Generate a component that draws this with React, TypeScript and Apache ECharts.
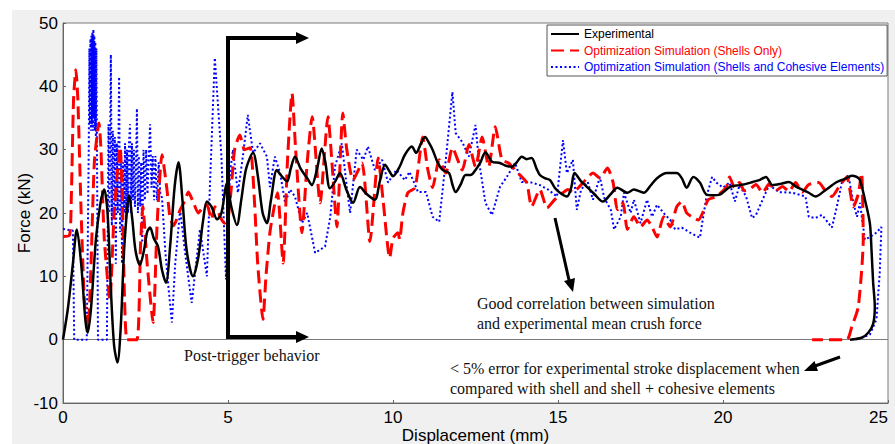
import React, { useEffect, useRef } from "react";
import * as echarts from "echarts";

const seriesNames = [
  "Experimental",
  "Optimization Simulation (Shells Only)",
  "Optimization Simulation (Shells and Cohesive Elements)",
];

const xTicks = { min: 0, max: 25, interval: 5 };
const yTicks = { min: -10, max: 50, interval: 10 };

const experimental: number[][] = [
  [0, 0], [0.15, 5], [0.3, 12], [0.42, 17.4], [0.55, 12], [0.68, 3], [0.75, 1.1], [0.85, 5], [1.0, 16], [1.15, 22], [1.25, 23.7], [1.35, 20], [1.45, 8], [1.55, -1], [1.65, -3.6], [1.75, 2], [1.85, 14], [1.95, 21], [2.0, 22.8], [2.1, 19], [2.2, 14], [2.33, 11.8], [2.45, 14], [2.55, 17], [2.64, 17.7], [2.75, 16], [2.88, 14.7], [3.0, 11], [3.12, 9.0], [3.25, 15], [3.38, 24], [3.5, 28], [3.62, 22], [3.75, 14], [3.94, 10], [4.1, 13], [4.25, 19], [4.36, 21.8], [4.5, 21], [4.67, 19], [4.8, 20], [4.97, 24.7], [5.1, 21], [5.27, 18.1], [5.4, 22], [5.55, 27], [5.76, 29.5], [5.9, 26], [6.05, 20], [6.18, 18.4], [6.3, 22], [6.48, 26.8], [6.6, 26], [6.79, 25], [6.9, 27], [7.03, 28.9], [7.2, 27], [7.4, 25.5], [7.54, 24.4], [7.7, 27], [7.84, 30.2], [7.95, 28], [8.09, 23.9], [8.25, 25], [8.39, 26.3], [8.6, 23.5], [8.79, 21.6], [9.0, 24.1], [9.2, 23], [9.45, 22.1], [9.6, 25], [9.76, 27.6], [9.9, 26.5], [10.0, 25.8], [10.2, 27.3], [10.36, 29.2], [10.57, 30.5], [10.7, 29.5], [10.85, 31], [10.97, 32], [11.1, 31], [11.2, 30], [11.35, 28], [11.5, 26.8], [11.7, 26.3], [11.8, 24.5], [11.9, 23.3], [12.05, 24.5], [12.2, 26], [12.35, 26], [12.5, 26.8], [12.65, 28], [12.8, 29.6], [13.0, 28.1], [13.24, 27.9], [13.4, 27.5], [13.6, 27.3], [13.75, 28], [13.9, 28.9], [14.05, 28.5], [14.2, 28.7], [14.35, 27], [14.45, 26], [14.6, 25.5], [14.76, 25.2], [14.9, 24], [15.06, 23.2], [15.27, 22.6], [15.4, 24], [15.5, 26.3], [15.7, 25], [15.9, 24], [16.1, 23], [16.36, 21.8], [16.6, 23], [16.8, 24], [17.1, 23.2], [17.3, 23.7], [17.6, 23.2], [17.8, 24.3], [18.0, 25.5], [18.3, 26.3], [18.6, 26.3], [18.75, 25.5], [18.9, 24], [19.1, 25.7], [19.3, 24.8], [19.5, 22.9], [19.7, 22.8], [19.9, 22.9], [20.2, 24.1], [20.5, 24.4], [20.7, 24.6], [20.9, 24.9], [21.1, 25.2], [21.3, 25.7], [21.5, 24.4], [21.75, 24.6], [22.0, 24.9], [22.2, 24.2], [22.4, 23.7], [22.6, 23.2], [22.8, 22.6], [23.1, 23.6], [23.45, 24.9], [23.7, 25.4], [23.9, 25.9], [24.05, 25.7], [24.15, 25.2], [24.3, 22.1], [24.45, 18.4], [24.5, 14.2], [24.55, 9], [24.6, 5.2], [24.55, 2.5], [24.4, 1.1], [24.2, 0.3], [23.85, 0],
];

const shellsOnly: number[][] = [
  [0, 16.3], [0.2, 16.5], [0.25, 22], [0.32, 38], [0.39, 42.6], [0.45, 38], [0.55, 20], [0.65, 6], [0.76, 1.9], [0.85, 12], [0.95, 28], [1.09, 34.2], [1.15, 30], [1.25, 16], [1.42, 6.3], [1.55, 20], [1.73, 30.4], [1.8, 22], [1.94, 0], [2.24, 0], [2.35, 15], [2.42, 21], [2.55, 12], [2.73, 2.7], [2.85, 18], [3.0, 29.2], [3.15, 23.7], [3.24, 19.4], [3.35, 18], [3.55, 20.5], [3.7, 22], [3.8, 23.3], [3.94, 21.8], [4.1, 20], [4.25, 21], [4.36, 21.3], [4.5, 19], [4.6, 21], [4.7, 20.2], [4.8, 19], [4.9, 18.4], [5.0, 19], [5.1, 24], [5.2, 30], [5.36, 32.3], [5.5, 30], [5.67, 30.3], [5.8, 22], [5.9, 12], [6.06, 3.2], [6.15, 10], [6.27, 16.9], [6.4, 21], [6.5, 23.2], [6.67, 12.1], [6.8, 28], [6.94, 38.9], [7.05, 30], [7.24, 16.9], [7.4, 28], [7.55, 35.2], [7.79, 21.6], [8.03, 35.2], [8.15, 28], [8.3, 17.8], [8.48, 35.8], [8.6, 30], [8.79, 25.2], [9.06, 27.9], [9.3, 15.5], [9.55, 28.7], [9.7, 22], [9.9, 12.9], [10.0, 16], [10.15, 16.9], [10.2, 15.8], [10.3, 20], [10.45, 23.2], [10.67, 24], [10.9, 32], [11.05, 27], [11.2, 24], [11.4, 28.4], [11.6, 26.3], [11.8, 30.3], [12.1, 26.8], [12.3, 30.8], [12.5, 27.3], [12.7, 32], [12.9, 27.3], [13.1, 33.6], [13.3, 28.4], [13.5, 27.9], [13.75, 26.5], [14.05, 24.8], [14.2, 21], [14.45, 23.7], [14.67, 20.8], [14.9, 22.1], [15.15, 23.2], [15.3, 23.7], [15.45, 23.3], [15.76, 24.8], [16.06, 26.3], [16.27, 25.5], [16.5, 27.1], [16.67, 24.8], [16.8, 20.5], [16.97, 21.6], [17.1, 17.4], [17.3, 19.4], [17.5, 17.8], [17.7, 18.9], [17.85, 17.8], [18.0, 16.2], [18.2, 19.4], [18.4, 17.8], [18.6, 21], [18.75, 21.8], [18.9, 20], [19.05, 19.4], [19.25, 18.9], [19.4, 20.2], [19.55, 22.1], [19.8, 22.6], [20.1, 24.1], [20.2, 25.7], [20.35, 24], [20.5, 24.8], [20.65, 23.5], [20.8, 23.7], [21.0, 24.5], [21.2, 23.2], [21.4, 24.6], [21.6, 23.5], [21.8, 24.2], [22.0, 23.4], [22.2, 24.8], [22.4, 23.3], [22.6, 24.5], [22.9, 24.8], [23.1, 23.5], [23.3, 22.6], [23.5, 24], [23.75, 25.7], [23.95, 21], [24.1, 23], [24.2, 26.3], [24.25, 15.8], [24.1, 5.2], [23.9, 2], [23.75, 0], [22.7, 0],
];

const shellsCohesive: number[][] = [
  [0, 17.5], [0.3, 17.2], [0.34, 0], [0.72, 0], [0.78, 30], [0.8, 46], [0.815, 34], [0.83, 47.5], [0.845, 33], [0.86, 48], [0.875, 34], [0.89, 48.5], [0.905, 33], [0.92, 49], [0.935, 35], [0.95, 48], [0.965, 33], [0.98, 47], [0.995, 32], [1.01, 46], [1.03, 30], [1.06, 0], [1.33, 0], [1.38, 34], [1.41, 20], [1.45, 45], [1.48, 18], [1.51, 33], [1.54, 19], [1.57, 32], [1.6, 12], [1.63, 31], [1.66, 20], [1.7, 41.5], [1.73, 17], [1.76, 30], [1.79, 12], [1.82, 28], [1.85, 20], [1.88, 31], [1.91, 19], [1.94, 30], [1.97, 20], [2.0, 31], [2.03, 34], [2.06, 20], [2.09, 31], [2.12, 22], [2.15, 30], [2.18, 21], [2.21, 27], [2.24, 36.5], [2.27, 20], [2.3, 29], [2.34, 21], [2.37, 28], [2.4, 15.3], [2.44, 30], [2.48, 22], [2.52, 30], [2.56, 23], [2.6, 29], [2.64, 34], [2.68, 24], [2.72, 29], [2.76, 22], [2.8, 29], [2.85, 22], [2.9, 28], [2.95, 23], [3.0, 22.4], [3.1, 14], [3.2, 8], [3.3, 2.7], [3.4, 12], [3.55, 20.5], [3.7, 13.7], [3.9, 5.8], [4.15, 17.4], [4.36, 10], [4.45, 24], [4.6, 44.5], [4.8, 29], [4.94, 9.5], [5.06, 26.3], [5.15, 30], [5.3, 23.2], [5.45, 28.9], [5.6, 35.5], [5.76, 29.5], [5.97, 31], [6.18, 28.9], [6.27, 24.1], [6.42, 28.9], [6.58, 26.3], [6.73, 21.6], [6.88, 23.7], [7.03, 22.6], [7.24, 18.4], [7.4, 20], [7.64, 13.7], [7.94, 14.7], [8.1, 19.4], [8.24, 27.3], [8.45, 31], [8.6, 24.1], [8.7, 20], [8.9, 30], [9.1, 28.4], [9.24, 30.5], [9.45, 26.8], [9.67, 28.4], [9.85, 24.8], [10.1, 26.8], [10.36, 25.2], [10.5, 26.5], [10.76, 23.3], [11.0, 23.3], [11.2, 19.4], [11.4, 18.6], [11.6, 28.4], [11.8, 39.1], [11.9, 32.6], [12.1, 31.2], [12.3, 28.9], [12.5, 33.9], [12.6, 28.4], [12.8, 21.6], [13.0, 19.7], [13.24, 24.1], [13.45, 25.7], [13.7, 27.9], [13.9, 24.9], [14.2, 24.8], [14.45, 24.4], [14.7, 23.7], [14.97, 22.6], [15.15, 31.5], [15.27, 26.3], [15.45, 28.4], [15.57, 20.5], [15.7, 23.7], [15.9, 24.9], [16.06, 22.1], [16.27, 25.7], [16.4, 22.4], [16.6, 20.5], [16.7, 17.4], [16.9, 19.4], [17.0, 23.2], [17.2, 20], [17.3, 22.1], [17.5, 18.4], [17.7, 22.1], [17.85, 19.4], [18.0, 21.3], [18.2, 20], [18.4, 18.9], [18.55, 17.4], [18.75, 17.7], [19.0, 16.9], [19.3, 16.1], [19.4, 19.4], [19.5, 22.6], [19.67, 25.7], [19.8, 24.8], [20.0, 24], [20.2, 24.8], [20.36, 21.8], [20.5, 24.4], [20.7, 22.6], [20.88, 19.2], [21.0, 19.7], [21.2, 22.1], [21.4, 24.4], [21.7, 23.3], [22.1, 23.2], [22.5, 22.6], [22.6, 19.4], [22.8, 19.2], [23.0, 19.7], [23.3, 17.7], [23.45, 21], [23.6, 24.8], [23.8, 26], [23.95, 21.6], [24.06, 19.4], [24.15, 21.6], [24.3, 15.8], [24.45, 16.2], [24.65, 16.9], [24.8, 17.8], [24.75, 10.6], [24.65, 3.2], [24.45, 0.8], [24.15, 0.2], [23.85, 0],
];

const annotations = {
  trigger: "Post-trigger behavior",
  correlation: ["Good correlation between simulation", "and experimental mean crush force"],
  stroke: ["< 5% error for experimental stroke displacement when", "compared with shell and shell + cohesive elements"],
};

const SANS = "'Liberation Sans', Arial, sans-serif";
const SERIF = "'Liberation Serif', 'Times New Roman', serif";

export default function App() {
  const ref = useRef<HTMLDivElement>(null);
  useEffect(() => {
    if (!ref.current) return;
    const chart = echarts.init(ref.current, undefined, { renderer: "svg" });
    const serifFont = `16px ${SERIF}`;
    const option: any = {
      animation: false,
      grid: {
        left: 63,
        top: 23,
        right: 7,
        bottom: 41,
        outerBoundsMode: "none",
        containLabel: false,
        show: true,
        backgroundColor: "#ffffff",
        borderColor: "#7a7a7a",
        borderWidth: 1,
      },
      legend: {
        orient: "vertical",
        left: 547,
        top: 25,
        padding: [3, 3, 3, 3],
        itemGap: 4.5,
        itemWidth: 28,
        itemHeight: 14,
        backgroundColor: "#ffffff",
        borderColor: "#555555",
        borderWidth: 1,
        borderRadius: 0,
        itemStyle: { opacity: 0 },
        textStyle: { fontFamily: SANS, fontSize: 12 },
        data: [
          { name: seriesNames[0], textStyle: { color: "#000000" } },
          { name: seriesNames[1], textStyle: { color: "#ff0000" } },
          { name: seriesNames[2], textStyle: { color: "#0000ff" } },
        ],
      },
      xAxis: {
        type: "value",
        min: xTicks.min,
        max: xTicks.max,
        interval: xTicks.interval,
        name: "Displacement (mm)",
        nameLocation: "middle",
        nameGap: 24,
        nameMoveOverlap: false,
        nameTextStyle: { fontFamily: SANS, fontSize: 17, color: "#000" },
        axisLine: { onZero: false, lineStyle: { color: "#666", width: 1 } },
        axisTick: { show: true, inside: true, length: 3, lineStyle: { color: "#666" } },
        axisLabel: { fontFamily: SANS, fontSize: 17, color: "#000", margin: 6, alignMaxLabel: "right" },
        splitLine: { show: false },
      },
      yAxis: {
        type: "value",
        min: yTicks.min,
        max: yTicks.max,
        interval: yTicks.interval,
        name: "Force (kN)",
        nameLocation: "middle",
        nameGap: 30,
        nameMoveOverlap: false,
        nameTextStyle: { fontFamily: SANS, fontSize: 17, color: "#000" },
        axisLine: { show: true, lineStyle: { color: "#666", width: 1 } },
        axisTick: { show: true, inside: true, length: 3, lineStyle: { color: "#666" } },
        axisLabel: { fontFamily: SANS, fontSize: 17, color: "#000", margin: 5 },
        splitLine: { show: false },
      },
      series: [
        {
          name: seriesNames[0],
          type: "line",
          data: experimental,
          symbol: "none",
          smooth: 0.3,
          z: 5,
          lineStyle: { color: "#000000", width: 2.5 },
          itemStyle: { color: "#000000" },
          markLine: {
            silent: true,
            symbol: "none",
            label: { show: false },
            lineStyle: { color: "#7a7a7a", width: 1, type: "solid" },
            data: [{ yAxis: 0 }],
            z: 1,
          },
        },
        {
          name: seriesNames[1],
          type: "line",
          data: shellsOnly,
          symbol: "none",
          smooth: 0.2,
          z: 4,
          lineStyle: { color: "#ff0000", width: 3, type: [13, 6] },
          itemStyle: { color: "#ff0000" },
        },
        {
          name: seriesNames[2],
          type: "line",
          data: shellsCohesive,
          symbol: "none",
          z: 3,
          lineStyle: { color: "#0000ff", width: 2, type: [2, 2.5] },
          itemStyle: { color: "#0000ff" },
        },
      ],
      graphic: [
        {
          type: "polyline",
          z: 100,
          shape: { points: [[300, 38], [228, 38], [228, 337], [300, 337]] },
          style: { stroke: "#000", lineWidth: 4, fill: null },
        },
        {
          type: "polygon",
          z: 100,
          shape: { points: [[296, 32], [309, 38], [296, 44]] },
          style: { fill: "#000" },
        },
        {
          type: "polygon",
          z: 100,
          shape: { points: [[296, 331], [309, 337], [296, 343]] },
          style: { fill: "#000" },
        },
        {
          type: "text",
          z: 100,
          x: 184,
          y: 355,
          style: { text: annotations.trigger, font: serifFont, fill: "#111", verticalAlign: "middle", align: "left" },
        },
        {
          type: "line",
          z: 100,
          shape: { x1: 555, y1: 218, x2: 569, y2: 280 },
          style: { stroke: "#000", lineWidth: 3 },
        },
        {
          type: "polygon",
          z: 100,
          shape: { points: [[575, 278], [573, 292], [564, 281]] },
          style: { fill: "#000" },
        },
        {
          type: "text",
          z: 100,
          x: 477,
          y: 303,
          style: { text: annotations.correlation[0], font: serifFont, fill: "#111", verticalAlign: "middle" },
        },
        {
          type: "text",
          z: 100,
          x: 477,
          y: 323,
          style: { text: annotations.correlation[1], font: serifFont, fill: "#111", verticalAlign: "middle" },
        },
        {
          type: "line",
          z: 100,
          shape: { x1: 840, y1: 357, x2: 815, y2: 366 },
          style: { stroke: "#000", lineWidth: 3 },
        },
        {
          type: "polygon",
          z: 100,
          shape: { points: [[818, 371], [804, 371], [814.5, 361]] },
          style: { fill: "#000" },
        },
        {
          type: "text",
          z: 100,
          x: 450,
          y: 368,
          style: { text: annotations.stroke[0], font: serifFont, fill: "#111", verticalAlign: "middle" },
        },
        {
          type: "text",
          z: 100,
          x: 450,
          y: 388,
          style: { text: annotations.stroke[1], font: serifFont, fill: "#111", verticalAlign: "middle" },
        },
      ],
    };
    chart.setOption(option);
    return () => chart.dispose();
  }, []);

  return (
    <div style={{ position: "absolute", left: 0, top: 0, width: 895, height: 444, background: "#ffffff" }}>
      <div style={{ position: "absolute", left: 12, top: 10, width: 883, height: 434, background: "#f0f0f0" }} />
      <div ref={ref} style={{ position: "absolute", left: 0, top: 0, width: 895, height: 444 }} />
    </div>
  );
}
